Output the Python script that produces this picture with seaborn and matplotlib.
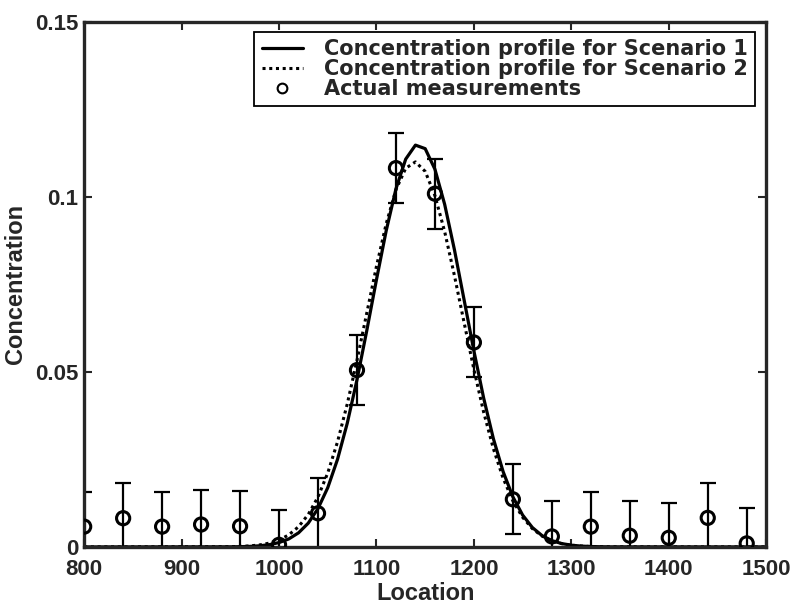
import numpy as np
import pandas as pd
import matplotlib
matplotlib.use("Agg")
import matplotlib.pyplot as plt
import seaborn as sns
from matplotlib.lines import Line2D

# measurements
meas_x = [800, 840, 880, 920, 960, 1000, 1040, 1080, 1120, 1160, 1200, 1240,
          1280, 1320, 1360, 1400, 1440, 1480]
meas_y = [0.0058, 0.0082, 0.0058, 0.0064, 0.0059, 0.0006, 0.0096, 0.0505, 0.1082,
          0.1009, 0.0584, 0.0136, 0.0030, 0.0058, 0.0032, 0.0026, 0.0083, 0.0010]
meas_err = [0.01] * 18

# concentration profiles
prof_x = [800, 950, 960, 970, 980, 990, 1000, 1010, 1020, 1030, 1040, 1050, 1060,
          1070, 1080, 1090, 1100, 1110, 1120, 1130, 1140, 1150, 1160, 1170, 1180,
          1190, 1200, 1210, 1220, 1230, 1240, 1250, 1260, 1270, 1280, 1290, 1300,
          1310, 1320, 1330, 1340, 1500]
scen1 = [0.0, 0.00003, 0.00007, 0.00015, 0.00032, 0.00064, 0.00124, 0.00228, 0.00402,
         0.00679, 0.01096, 0.01692, 0.02499, 0.03531, 0.04773, 0.06171, 0.07634,
         0.09034, 0.10228, 0.11077, 0.11477, 0.11376, 0.10787, 0.09784, 0.08490,
         0.07048, 0.05598, 0.04253, 0.03091, 0.02149, 0.01430, 0.00910, 0.00554,
         0.00322, 0.00180, 0.00096, 0.00049, 0.00024, 0.00011, 0.00005, 0.00002, 0.0]
scen2 = [0.0, 0.00006, 0.00014, 0.00029, 0.00057, 0.00108, 0.00197, 0.00344, 0.00576,
         0.00927, 0.01429, 0.02113, 0.02999, 0.04081, 0.05328, 0.06672, 0.08014,
         0.09233, 0.10204, 0.10816, 0.10998, 0.10726, 0.10035, 0.09005, 0.07752,
         0.06400, 0.05069, 0.03850, 0.02806, 0.01961, 0.01315, 0.00846, 0.00522,
         0.00309, 0.00175, 0.00095, 0.00050, 0.00025, 0.00012, 0.00006, 0.00002, 0.0]

x_ticks = [800, 900, 1000, 1100, 1200, 1300, 1400, 1500]
y_ticks = [0, 0.05, 0.1, 0.15]
y_ticklabels = ["0", "0.05", "0.1", "0.15"]

sns.set_style("ticks")
plt.rcParams['font.family'] = ['Liberation Sans', 'DejaVu Sans']
plt.rcParams['font.weight'] = 'bold'

prof_df = pd.DataFrame({"Location": prof_x, "s1": scen1, "s2": scen2})
meas_df = pd.DataFrame({"Location": meas_x, "Concentration": meas_y})

fig = plt.figure(figsize=(7.94, 6.05), dpi=100)
ax = fig.add_axes([0.106, 0.096, 0.859, 0.868])

sns.lineplot(data=prof_df, x="Location", y="s1", color="black", linewidth=2.3, ax=ax)
sns.lineplot(data=prof_df, x="Location", y="s2", color="black", linewidth=2.2,
             linestyle=(0, (1, 1.2)), ax=ax)
ax.errorbar(meas_x, meas_y, yerr=meas_err, fmt="none", ecolor="black",
            elinewidth=1.6, capsize=5.5, capthick=1.6)
sns.scatterplot(data=meas_df, x="Location", y="Concentration", marker="o", s=90,
                facecolor="none", edgecolor="black", linewidth=2.2, ax=ax, zorder=5)

ax.set_xlim(800, 1500)
ax.set_ylim(0, 0.15)
ax.set_xticks(x_ticks)
ax.set_yticks(y_ticks)
ax.set_yticklabels(y_ticklabels)
ax.tick_params(direction="in", top=True, right=True, length=6, width=1.5,
               labelsize=16)
ax.tick_params(axis="x", pad=9)
ax.tick_params(axis="y", pad=4)
for s in ax.spines.values():
    s.set_linewidth(2.4)
    s.set_visible(True)
ax.set_xlabel("Location", fontsize=17, fontweight="bold", labelpad=1)
ax.set_ylabel("Concentration", fontsize=17, fontweight="bold", labelpad=6)

handles = [Line2D([], [], color="black", linewidth=2.3),
           Line2D([], [], color="black", linewidth=2.2, linestyle=(0, (1, 1.2))),
           Line2D([], [], color="black", marker="o", linestyle="none",
                  markerfacecolor="none", markersize=7, markeredgewidth=1.5)]
labels = ["Concentration profile for Scenario 1",
          "Concentration profile for Scenario 2",
          "Actual measurements"]
leg = ax.legend(handles, labels, loc="upper right", bbox_to_anchor=(0.984, 0.981),
                borderaxespad=0, fancybox=False, framealpha=1, edgecolor="black",
                prop={"family": "DejaVu Sans", "weight": "bold", "size": 15},
                handlelength=2.0, handletextpad=1.0, labelspacing=0.0,
                borderpad=0.35)
leg.get_frame().set_linewidth(1.3)

fig.savefig("out.png", dpi=100)
